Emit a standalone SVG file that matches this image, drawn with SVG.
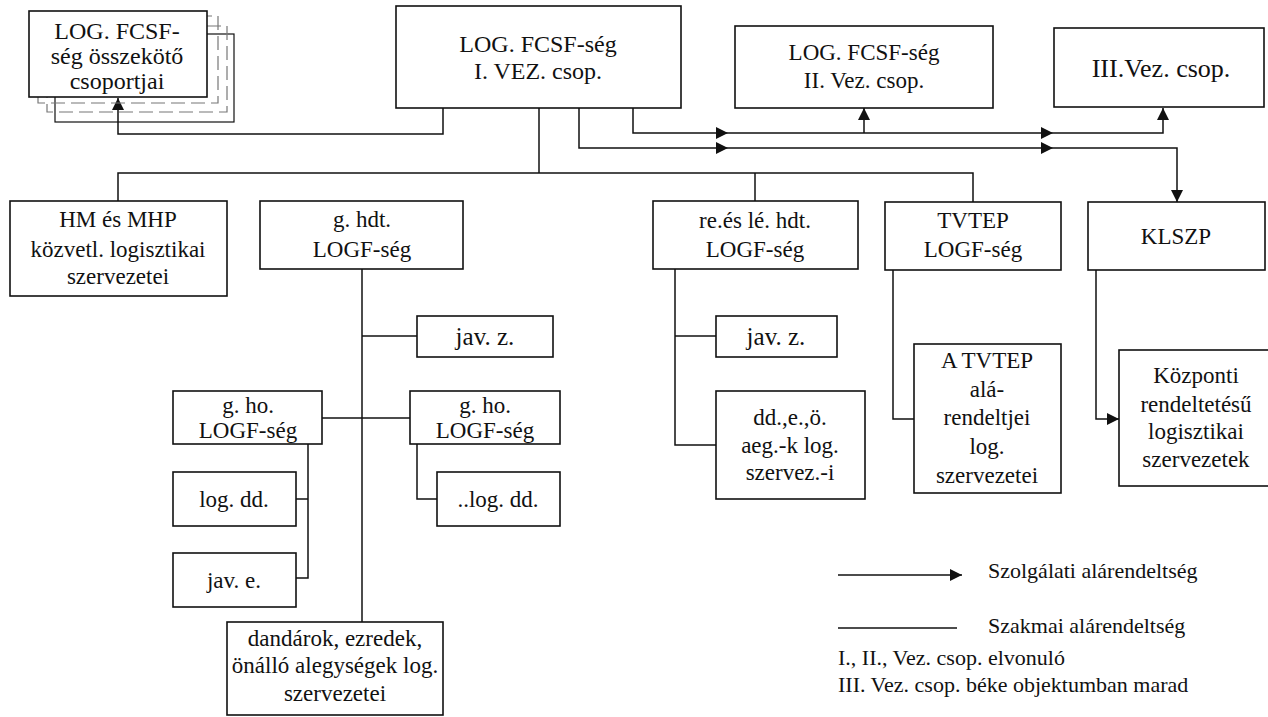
<svg xmlns="http://www.w3.org/2000/svg" xmlns:xlink="http://www.w3.org/1999/xlink" width="1268" height="717" viewBox="0 0 1268 717">
<style>
.box{fill:#fff;stroke:#111;stroke-width:1.6}
.back{fill:none;stroke:#777;stroke-width:1.2;stroke-dasharray:14 6}
.ln{fill:none;stroke:#111;stroke-width:1.5}
text{font-family:'Liberation Serif',Tinos,'Times New Roman',Times,serif;font-size:23px;fill:#111;text-anchor:middle}
.lg{text-anchor:start;font-size:22px}
</style>
<defs>
<marker id="ah" viewBox="0 0 12 12" refX="12" refY="6" markerWidth="12" markerHeight="12" markerUnits="userSpaceOnUse" orient="auto">
<path d="M0,0 L12,6 L0,12 Z" fill="#111"/>
</marker>
<path id="tri" d="M-12,-6 L0,0 L-12,6 Z" fill="#111"/>
</defs>
<rect width="1268" height="717" fill="#fff"/>

<g id="connectors">
<path class="ln" d="M443 108 V134 H118 V98" marker-end="url(#ah)"/>
<path class="ln" d="M633 108 V133 H1163 V108" marker-end="url(#ah)"/>
<path class="ln" d="M864 133 V108" marker-end="url(#ah)"/>
<path class="ln" d="M579 108 V148 H1177 V202" marker-end="url(#ah)"/>
<use xlink:href="#tri" x="728" y="133"/>
<use xlink:href="#tri" x="1053" y="133"/>
<use xlink:href="#tri" x="728" y="148"/>
<use xlink:href="#tri" x="1053" y="148"/>
<path class="ln" d="M539 108 V173"/>
<path class="ln" d="M118 201 V173 H973 V202"/>
<path class="ln" d="M755 173 V201"/>
<path class="ln" d="M362 269 V622"/>
<path class="ln" d="M362 336 H417"/>
<path class="ln" d="M322 418 H410"/>
<path class="ln" d="M308 444 V578 H296"/>
<path class="ln" d="M296 499 H308"/>
<path class="ln" d="M417 444 V499 H437"/>
<path class="ln" d="M675 269 V445 H716"/>
<path class="ln" d="M675 336 H716"/>
<path class="ln" d="M893 270 V419 H914"/>
<path class="ln" d="M1096 270 V419 H1119" marker-end="url(#ah)"/>
</g>

<g id="n-osszekoto">
<rect class="back" x="55" y="34" width="179" height="88" style="stroke:#111;stroke-dasharray:none"/>
<rect class="back" x="47" y="26" width="180" height="86"/>
<rect class="back" x="38" y="16" width="180" height="87"/>
<rect class="box" x="29" y="11" width="178" height="86"/>
<text x="117" y="39" style="font-size:24px">LOG. FCSF-</text>
<text x="117" y="64" style="font-size:24px">ség összekötő</text>
<text x="117" y="89" style="font-size:24px">csoportjai</text>
</g>

<g id="n-vez1">
<rect class="box" x="396" y="6" width="285" height="102"/>
<text x="538" y="52" style="font-size:24px">LOG.  FCSF-ség</text>
<text x="538" y="79" style="font-size:24px">I. VEZ. csop.</text>
</g>

<g id="n-vez2">
<rect class="box" x="735" y="26" width="258" height="82"/>
<text x="864" y="60">LOG. FCSF-ség</text>
<text x="864" y="88">II. Vez. csop.</text>
</g>

<g id="n-vez3">
<rect class="box" x="1054" y="28" width="210" height="79"/>
<text x="1161" y="77" style="font-size:26px">III.Vez. csop.</text>
</g>

<g id="n-hm">
<rect class="box" x="10" y="201" width="217" height="95"/>
<text x="118" y="227">HM és MHP</text>
<text x="118" y="257">közvetl. logisztikai</text>
<text x="118" y="284">szervezetei</text>
</g>

<g id="n-ghdt">
<rect class="box" x="260" y="201" width="203" height="68"/>
<text x="362" y="227">g. hdt.</text>
<text x="362" y="257">LOGF-ség</text>
</g>

<g id="n-javz1">
<rect class="box" x="417" y="316" width="136" height="41"/>
<text x="485" y="345" style="font-size:25px">jav. z.</text>
</g>

<g id="n-gho1">
<rect class="box" x="173" y="391" width="149" height="53"/>
<text x="248" y="413">g. ho.</text>
<text x="248" y="438">LOGF-ség</text>
</g>

<g id="n-gho2">
<rect class="box" x="410" y="391" width="150" height="53"/>
<text x="485" y="413">g. ho.</text>
<text x="485" y="438">LOGF-ség</text>
</g>

<g id="n-logdd1">
<rect class="box" x="173" y="472" width="123" height="54"/>
<text x="234" y="507">log. dd.</text>
</g>

<g id="n-jave">
<rect class="box" x="173" y="553" width="123" height="54"/>
<text x="234" y="588">jav. e.</text>
</g>

<g id="n-logdd2">
<rect class="box" x="437" y="472" width="123" height="54"/>
<text x="498" y="507">..log. dd.</text>
</g>

<g id="n-dandarok">
<rect class="box" x="227" y="622" width="216" height="93"/>
<text x="335" y="646">dandárok, ezredek,</text>
<text x="335" y="673">önálló alegységek log.</text>
<text x="335" y="701">szervezetei</text>
</g>

<g id="n-rees">
<rect class="box" x="653" y="201" width="205" height="68"/>
<text x="755" y="228">re.és lé. hdt.</text>
<text x="755" y="257">LOGF-ség</text>
</g>

<g id="n-javz2">
<rect class="box" x="716" y="316" width="121" height="41"/>
<text x="776" y="345" style="font-size:25px">jav. z.</text>
</g>

<g id="n-ddeo">
<rect class="box" x="716" y="391" width="149" height="108"/>
<text x="790" y="425">dd.,e.,ö.</text>
<text x="790" y="453">aeg.-k log.</text>
<text x="790" y="480">szervez.-i</text>
</g>

<g id="n-tvtep">
<rect class="box" x="885" y="202" width="176" height="68"/>
<text x="973" y="228">TVTEP</text>
<text x="973" y="257">LOGF-ség</text>
</g>

<g id="n-atvtep">
<rect class="box" x="914" y="344" width="147" height="149"/>
<text x="987" y="368">A TVTEP</text>
<text x="987" y="397">alá-</text>
<text x="987" y="425">rendeltjei</text>
<text x="987" y="454">log.</text>
<text x="987" y="483">szervezetei</text>
</g>

<g id="n-klszp">
<rect class="box" x="1088" y="202" width="177" height="68"/>
<text x="1176" y="244">KLSZP</text>
</g>

<g id="n-kozponti">
<rect class="box" x="1119" y="350" width="160" height="136"/>
<text x="1196" y="383">Központi</text>
<text x="1196" y="412">rendeltetésű</text>
<text x="1196" y="439">logisztikai</text>
<text x="1196" y="467">szervezetek</text>
</g>

<g id="legend">
<path class="ln" d="M838 575 H962" marker-end="url(#ah)"/>
<text class="lg" x="988" y="578">Szolgálati  alárendeltség</text>
<path class="ln" d="M838 628 H957"/>
<text class="lg" x="988" y="633">Szakmai alárendeltség</text>
<text class="lg" x="838" y="665">I., II., Vez. csop. elvonuló</text>
<text class="lg" x="838" y="692">III. Vez. csop. béke objektumban marad</text>
</g>
</svg>
